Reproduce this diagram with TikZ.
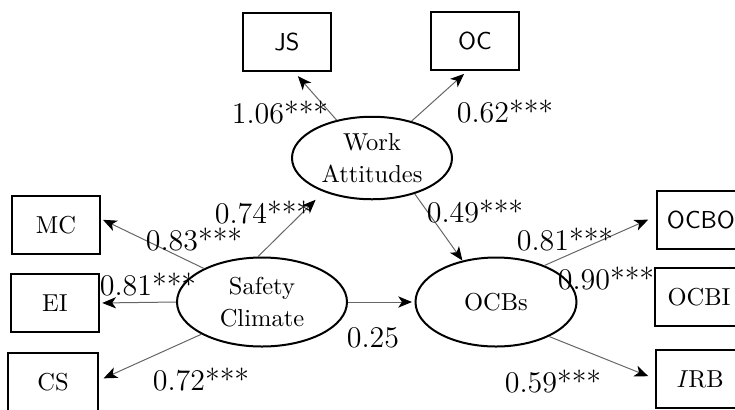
\documentclass[tikz,border=0pt]{standalone}
\usepackage{tikz}
\usetikzlibrary{arrows.meta}
\usetikzlibrary{shapes.geometric}

\begin{document}
\begin{tikzpicture}[x=0.4pt, y=-0.4pt,
    obs/.style={draw, line width=0.8pt, minimum width=35pt, minimum height=23.5pt, inner sep=0pt, font=\fontsize{9.8}{12}\selectfont},
    latent/.style={draw, ellipse, line width=0.8pt, inner sep=0pt, align=center, font=\fontsize{9.8}{13}\selectfont},
    coef/.style={inner sep=0pt, font=\fontsize{12}{14}\selectfont},
    loading/.style={draw=black!60, line width=0.4pt, -{Stealth[length=5.5pt, width=4.5pt, inset=1.5pt, black]}}]
    \useasboundingbox (0,0) rectangle (735,409);

    \node[latent, minimum width=64pt, minimum height=33pt] (wa) at (372,158) {Work\\Attitudes};
    \node[latent, minimum width=68pt, minimum height=35.6pt] (sc) at (262,302) {Safety\\Climate};
    \node[latent, minimum width=64.4pt, minimum height=35.6pt] (ocbs) at (496,302) {OCBs};

    \node[obs, font=\fontsize{9.8}{12}\sffamily] (js) at (287,42) {JS};
    \node[obs, font=\fontsize{9.8}{12}\sffamily] (oc) at (475,41) {OC};
    \node[obs] (mc) at (56,225) {MC};
    \node[obs] (ei) at (55,303) {EI};
    \node[obs, minimum width=36pt] (cs) at (53,382) {CS};
    \node[obs, font=\fontsize{9.8}{12}\sffamily] (ocbo) at (701,220) {OCBO};
    \node[obs] (ocbi) at (699,297) {OCBI};
    \node[obs] (irb) at (700,379) {\textit{I}RB};

    \draw[loading, shorten >=2pt] (wa.133) -- (js.-76);
    \draw[loading, shorten >=1.5pt] (wa.43) -- (oc.-105);
    \draw[loading] (wa.-40) -- (ocbs.129);
    \draw[loading, shorten >=4.5pt] (sc.95) -- (wa.215);
    \draw[loading, shorten >=1pt] (sc.150) -- (mc.8);
    \draw[loading, shorten >=1pt] (sc.west) -- (ei.east);
    \draw[loading, shorten >=2pt] (sc.208) -- (cs.2);
    \draw[loading, shorten >=1pt] (sc.east) -- (ocbs.west);
    \draw[loading, shorten >=3.5pt] (ocbs.37) -- (ocbo.175);
    \draw[loading, shorten >=3pt] (ocbs.-33) -- (irb.west);

    \node[coef] (c106) at (280,113) {1.06***};
    \node[coef] (c062) at (505,112) {0.62***};
    \node[coef] (c074) at (263,213) {0.74***};
    \node[coef] (c083) at (194,240) {0.83***};
    \node[coef] (c081a) at (148,285) {0.81***};
    \node[coef] (c072) at (201,380) {0.72***};
    \node[coef] (c049) at (475,212) {0.49***};
    \node[coef] (c025) at (373,338) {0.25};
    \node[coef] (c081b) at (565,240) {0.81***};
    \node[coef] (c090) at (606,279) {0.90***};
    \node[coef] (c059) at (553,382) {0.59***};

  \end{tikzpicture}
\end{document}
